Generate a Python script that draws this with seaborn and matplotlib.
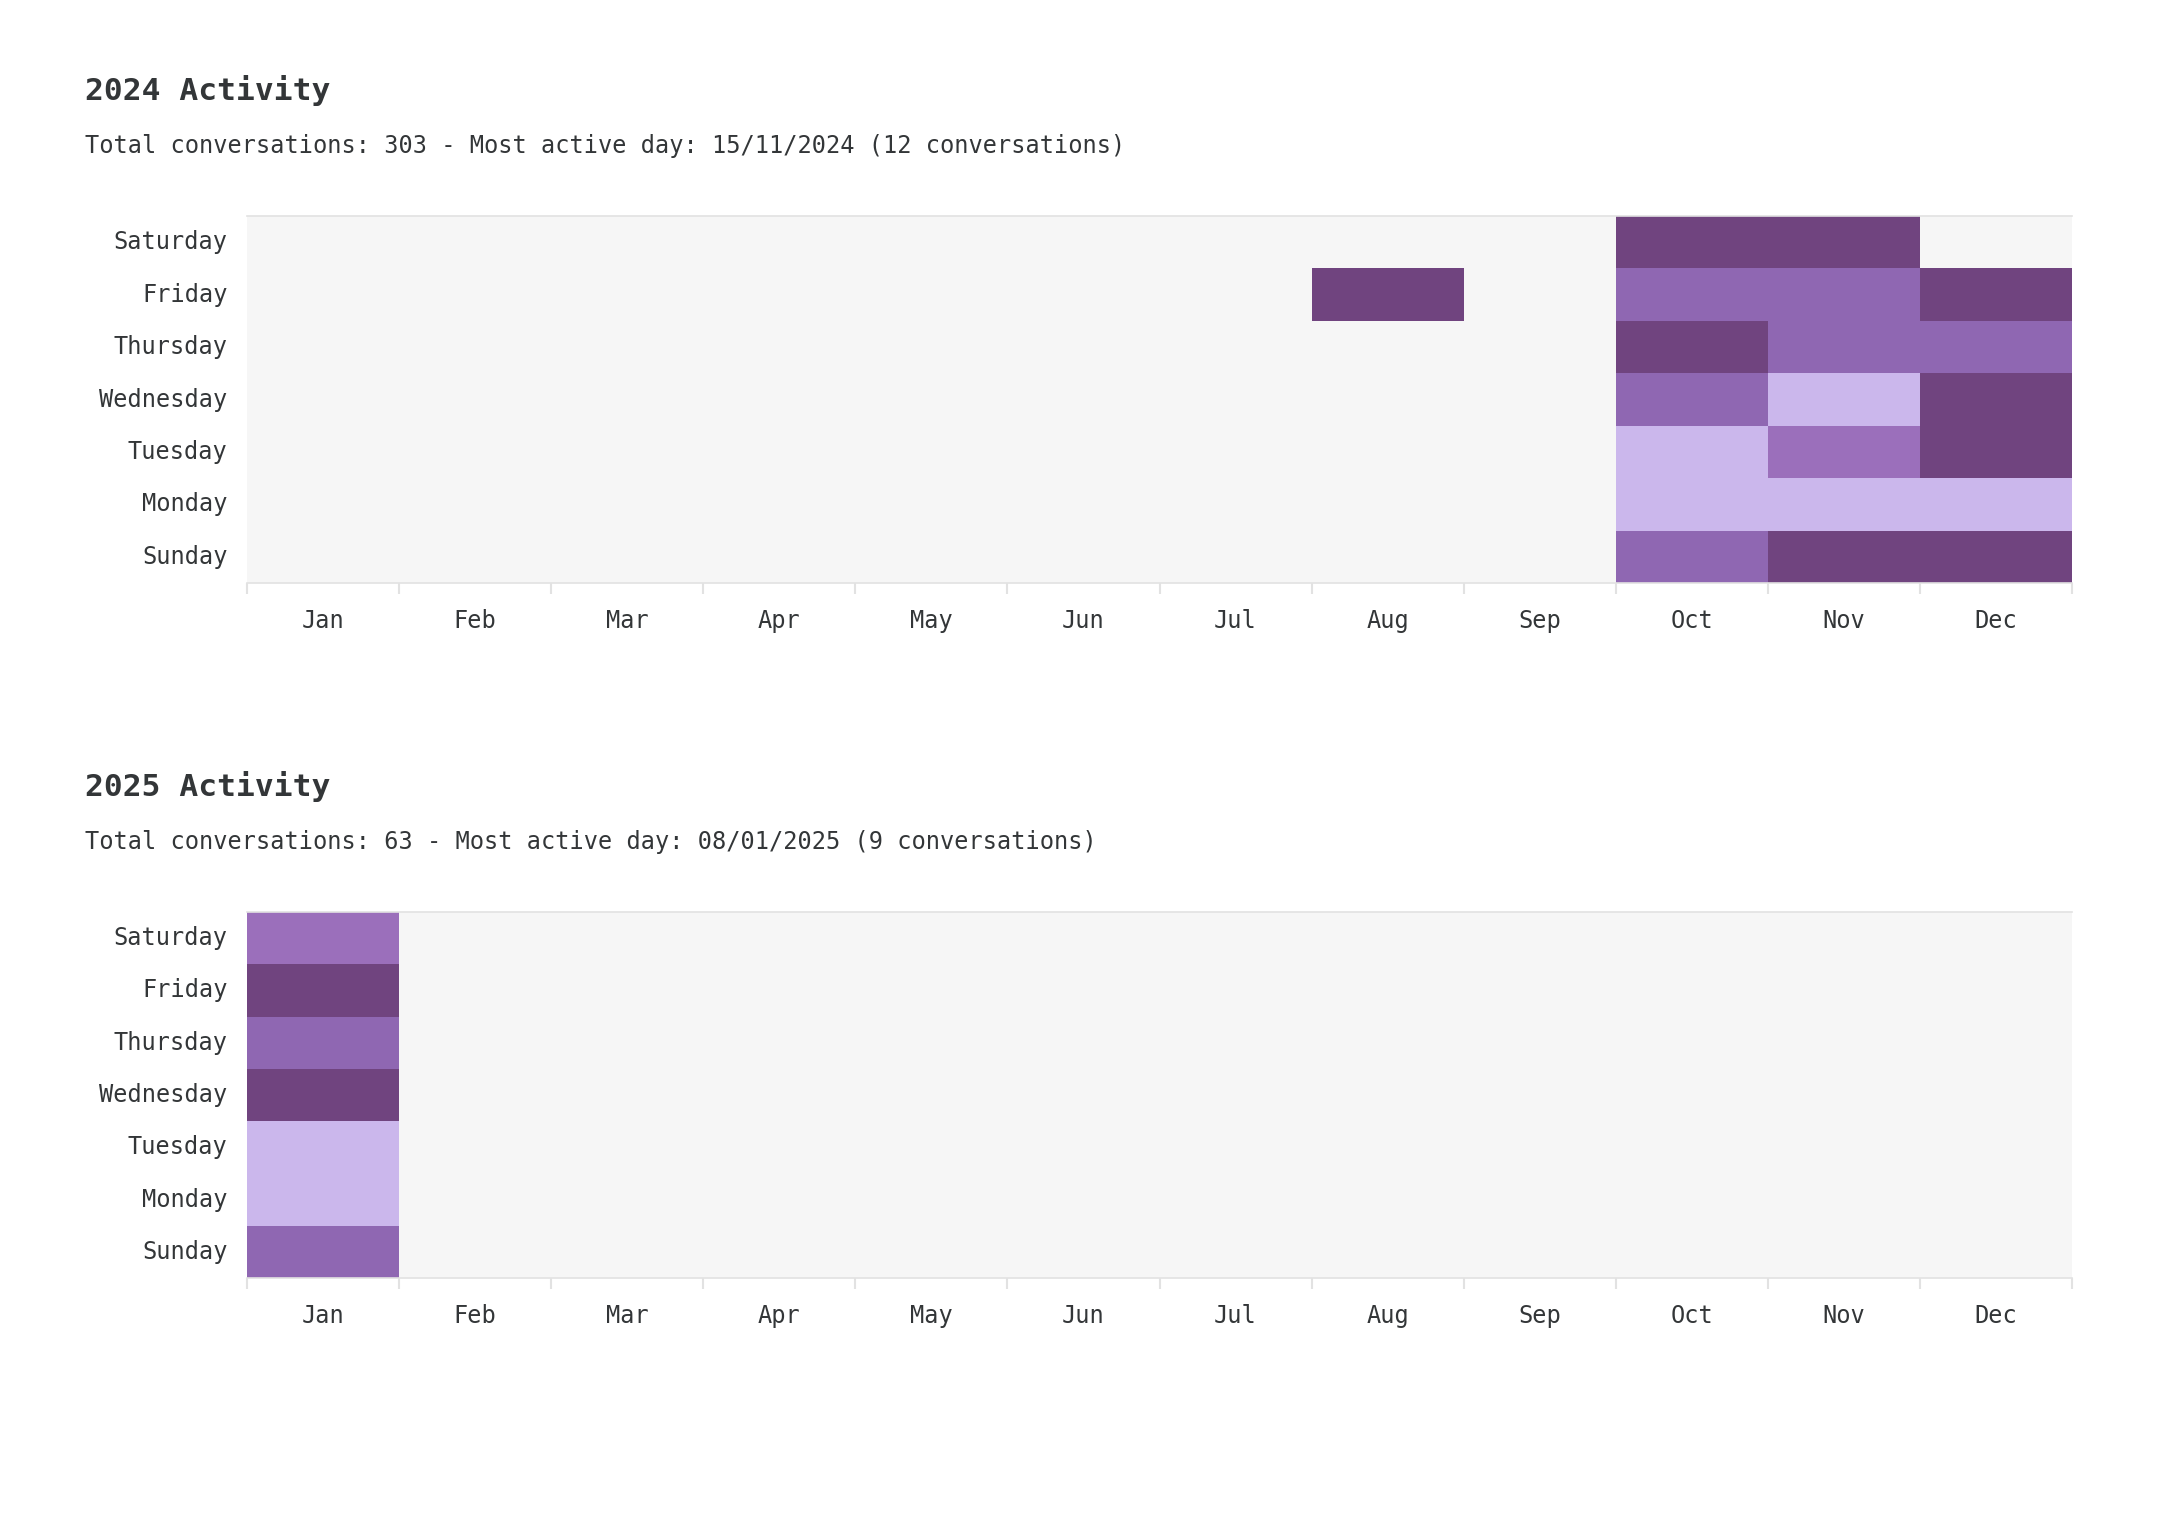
import numpy as np
import pandas as pd
import matplotlib
matplotlib.use("Agg")
import matplotlib.pyplot as plt
import seaborn as sns
from matplotlib.colors import ListedColormap, BoundaryNorm

# Row / column labels
days = ["Saturday", "Friday", "Thursday", "Wednesday", "Tuesday", "Monday", "Sunday"]
months = ["Jan", "Feb", "Mar", "Apr", "May", "Jun", "Jul", "Aug", "Sep", "Oct", "Nov", "Dec"]

# conversations per weekday per month (rows follow `days`)
counts_2024 = [
    [0, 0, 0, 0, 0, 0, 0, 0, 0, 24, 25, 0],
    [0, 0, 0, 0, 0, 0, 0, 22, 0, 11, 12, 22],
    [0, 0, 0, 0, 0, 0, 0, 0, 0, 20, 11, 12],
    [0, 0, 0, 0, 0, 0, 0, 0, 0, 12, 4, 26],
    [0, 0, 0, 0, 0, 0, 0, 0, 0, 4, 8, 22],
    [0, 0, 0, 0, 0, 0, 0, 0, 0, 3, 3, 4],
    [0, 0, 0, 0, 0, 0, 0, 0, 0, 10, 24, 24],
]
counts_2025 = [
    [8, 0, 0, 0, 0, 0, 0, 0, 0, 0, 0, 0],
    [14, 0, 0, 0, 0, 0, 0, 0, 0, 0, 0, 0],
    [10, 0, 0, 0, 0, 0, 0, 0, 0, 0, 0, 0],
    [14, 0, 0, 0, 0, 0, 0, 0, 0, 0, 0, 0],
    [3, 0, 0, 0, 0, 0, 0, 0, 0, 0, 0, 0],
    [4, 0, 0, 0, 0, 0, 0, 0, 0, 0, 0, 0],
    [10, 0, 0, 0, 0, 0, 0, 0, 0, 0, 0, 0],
]

years = [2024, 2025]
totals = [303, 63]
top_days = ["15/11/2024", "08/01/2025"]
top_counts = [12, 9]

# activity levels
level_colors = ["#f6f6f6", "#cbb7ec", "#9b6fbb", "#8f67b2", "#70447f"]
level_bounds = [-0.5, 0.5, 5.5, 9.5, 13.5, 1000]
cmap = ListedColormap(level_colors)
norm = BoundaryNorm(level_bounds, cmap.N)

sns.set_style("white")
plt.rcParams["font.family"] = ["DejaVu Sans Mono"]
text_color = "#333638"
line_color = "#e2e2e2"

fig = plt.figure(figsize=(21.76, 15.2), dpi=100)

axes_pos = [
    [247 / 2176, 1 - 583 / 1520, (2072 - 247) / 2176, (583 - 216) / 1520],
    [247 / 2176, 1 - 1278 / 1520, (2072 - 247) / 2176, (1278 - 912) / 1520],
]
title_y = [91, 787]
sub_y = [146, 842]

for i, counts in enumerate([counts_2024, counts_2025]):
    df = pd.DataFrame(counts, index=days, columns=months)
    ax = fig.add_axes(axes_pos[i])
    sns.heatmap(df, ax=ax, cmap=cmap, norm=norm, cbar=False, linewidths=0)

    # month labels centred, tick marks at month boundaries
    ax.set_xticks(np.arange(len(months)) + 0.5)
    ax.set_xticklabels(months, fontsize=17, color=text_color, rotation=0)
    ax.tick_params(axis="x", which="major", length=0, pad=19)
    ax.set_xticks(np.arange(len(months) + 1), minor=True)
    ax.tick_params(axis="x", which="minor", length=8, width=1.5,
                   color=line_color, bottom=True)

    ax.set_yticks(np.arange(len(days)) + 0.5)
    ax.set_yticklabels(days, fontsize=17, color=text_color, rotation=0)
    ax.tick_params(axis="y", length=0, pad=14)
    ax.set_xlabel("")
    ax.set_ylabel("")

    for side in ["top", "bottom"]:
        ax.spines[side].set_visible(True)
        ax.spines[side].set_color(line_color)
        ax.spines[side].set_linewidth(1.2)
    for side in ["left", "right"]:
        ax.spines[side].set_visible(False)

    fig.text(85 / 2176, 1 - title_y[i] / 1520, f"{years[i]} Activity",
             fontsize=22.5, fontweight="bold", color=text_color, va="center")
    fig.text(85 / 2176, 1 - sub_y[i] / 1520,
             f"Total conversations: {totals[i]} - Most active day: {top_days[i]} ({top_counts[i]} conversations)",
             fontsize=17, color=text_color, va="center")

fig.savefig("out.png", dpi=100, facecolor="white")
